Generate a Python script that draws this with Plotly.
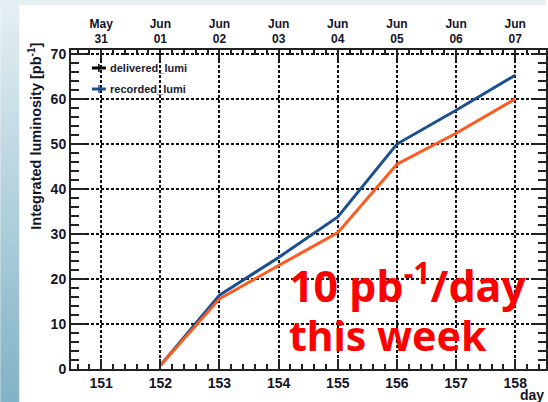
import plotly.graph_objects as go

# Day-of-year axis and the matching calendar labels shown along the top
days = [151, 152, 153, 154, 155, 156, 157, 158]
date_labels = ["May<br>31", "Jun<br>01", "Jun<br>02", "Jun<br>03",
               "Jun<br>04", "Jun<br>05", "Jun<br>06", "Jun<br>07"]

# Integrated luminosity [pb^-1] per day (starts at day 152)
lumi_days = [152, 153, 154, 155, 156, 157, 158]
upper_lumi = [0.8, 16.4, 24.8, 33.8, 50.0, 57.5, 65.3]
lower_lumi = [0.8, 15.6, 23.0, 30.3, 45.5, 52.4, 60.0]

legend_names = ["delivered_lumi", "recorded_lumi"]
legend_colors = ["#000000", "#1c4f91"]

W, H = 548, 402
ML, MR, MT, MB = 71, 0, 50, 33
PW, PH = W - ML - MR, H - MT - MB


def px_x(px):
    return (px - ML) / PW


def px_y(py):
    return (H - MB - py) / PH


TICK_FONT = dict(family="Liberation Sans, Arial, sans-serif", size=14,
                 color="#141428", weight="bold")
XR = [150.49, 158.52]
YR = [0, 70.9]

fig = go.Figure()

fig.add_trace(go.Scatter(x=lumi_days, y=upper_lumi, mode="lines",
                         line=dict(color="#1c4f91", width=3),
                         showlegend=False, hoverinfo="skip"))
fig.add_trace(go.Scatter(x=lumi_days, y=lower_lumi, mode="lines",
                         line=dict(color="#ff5a1e", width=3),
                         showlegend=False, hoverinfo="skip"))
# empty trace so the top calendar axis is drawn
fig.add_trace(go.Scatter(x=[None], y=[None], xaxis="x2", showlegend=False,
                         hoverinfo="skip"))

grid_dash = "3px,2px"
fig.update_layout(
    width=W, height=H,
    margin=dict(l=ML, r=MR, t=MT, b=MB),
    paper_bgcolor="white", plot_bgcolor="white",
    showlegend=False,
    xaxis=dict(range=XR, tickmode="array", tickvals=days,
               ticktext=[str(d) for d in days],
               ticks="inside", ticklen=10, tickwidth=1.5, tickcolor="#222",
               minor=dict(dtick=0.2, tick0=151, ticks="inside", ticklen=5,
                          tickwidth=1.5, tickcolor="#222", showgrid=False),
               showline=True, linecolor="#222", linewidth=2,
               showgrid=True, gridcolor="#111", gridwidth=1.5,
               griddash=grid_dash, zeroline=False, tickfont=TICK_FONT),
    xaxis2=dict(range=XR, overlaying="x", side="top", anchor="y",
                tickmode="array", tickvals=days, ticktext=date_labels,
                ticks="inside", ticklen=10, tickwidth=1.5, tickcolor="#222",
                minor=dict(dtick=0.2, tick0=151, ticks="inside", ticklen=5,
                           tickwidth=1.5, tickcolor="#222", showgrid=False),
                showline=True, linecolor="#222", linewidth=2,
                showgrid=False, zeroline=False,
                tickfont=dict(family="Liberation Sans, Arial, sans-serif",
                              size=12, color="#141428", weight="bold")),
    yaxis=dict(range=YR, dtick=10, tick0=0,
               ticks="inside", ticklen=15, tickwidth=1.5, tickcolor="#222",
               minor=dict(dtick=2, tick0=0, ticks="inside", ticklen=8,
                          tickwidth=1.5, tickcolor="#222", showgrid=False),
               showline=True, linecolor="#222", linewidth=2, mirror="ticks",
               showgrid=True, gridcolor="#111", gridwidth=1.5,
               griddash=grid_dash, zeroline=False, tickfont=TICK_FONT),
)

shapes = []
# soft blue page background strips (left edge and top edge)
n_bands = 40
top_col = (0xe4, 0xef, 0xf3)
bot_col = (0x82, 0xb3, 0xc6)
for i in range(n_bands):
    t = i / (n_bands - 1)
    c = tuple(int(round(a + (b - a) * t)) for a, b in zip(top_col, bot_col))
    y0 = i * H / n_bands
    y1 = (i + 1) * H / n_bands + 0.5
    shapes.append(dict(type="rect", xref="paper", yref="paper",
                       x0=px_x(0), x1=px_x(19), y0=px_y(y1), y1=px_y(y0),
                       fillcolor="rgb(%d,%d,%d)" % c, line=dict(width=0),
                       layer="below"))
shapes.append(dict(type="rect", xref="paper", yref="paper",
                   x0=px_x(0), x1=px_x(W), y0=px_y(5), y1=px_y(0),
                   fillcolor="#e6eff2", line=dict(width=0), layer="below"))

annotations = []
# legend entries
for i, (name, col) in enumerate(zip(legend_names, legend_colors)):
    yc = 68 + i * 21
    shapes.append(dict(type="line", xref="paper", yref="paper",
                       x0=px_x(92), x1=px_x(106), y0=px_y(yc), y1=px_y(yc),
                       line=dict(color=col, width=3)))
    shapes.append(dict(type="line", xref="paper", yref="paper",
                       x0=px_x(99), x1=px_x(99), y0=px_y(yc - 4),
                       y1=px_y(yc + 4), line=dict(color=col, width=1.5)))
    annotations.append(dict(xref="paper", yref="paper", x=px_x(108),
                            y=px_y(yc), xanchor="left", yanchor="middle",
                            text=name, showarrow=False,
                            font=dict(family="Liberation Sans, Arial", size=11,
                                      color="#1a1a30", weight="bold")))

# axis titles
annotations.append(dict(xref="paper", yref="paper", x=px_x(34), y=px_y(41),
                        xanchor="center", yanchor="top", textangle=-90,
                        text="Integrated luminosity [pb<sup>-1</sup>]",
                        showarrow=False,
                        font=dict(family="Liberation Sans, Arial", size=14.5,
                                  color="#141428", weight="bold")))
annotations.append(dict(xref="paper", yref="paper", x=px_x(548), y=px_y(395),
                        xanchor="right", yanchor="middle", text="day",
                        showarrow=False,
                        font=dict(family="Liberation Sans, Arial", size=14,
                                  color="#141428", weight="bold")))

# highlighted rate note
note_font = dict(family="Noto Sans, Open Sans, sans-serif", size=41,
                 color="#ff0000", weight="bold")
annotations.append(dict(xref="paper", yref="paper", x=px_x(288), y=px_y(283),
                        xanchor="left", yanchor="middle",
                        text="10 pb<sup>-1</sup>/day", showarrow=False,
                        font=dict(note_font, size=43)))
annotations.append(dict(xref="paper", yref="paper", x=px_x(288), y=px_y(335),
                        xanchor="left", yanchor="middle",
                        text="this week", showarrow=False, font=note_font))

fig.update_layout(shapes=shapes, annotations=annotations)

fig.write_html("out.html")
